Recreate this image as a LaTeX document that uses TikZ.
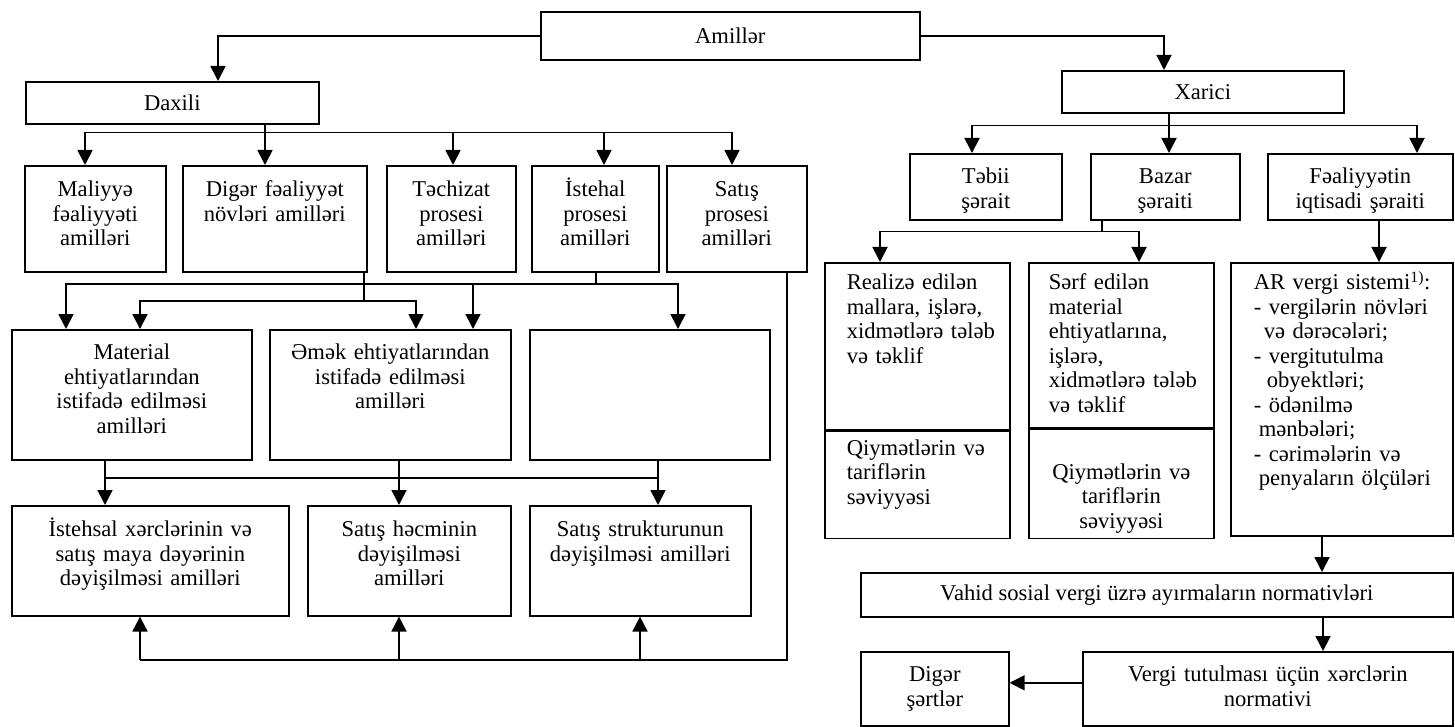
\documentclass[tikz,border=0pt]{standalone}
\usepackage{fontspec}
\setmainfont{Liberation Serif}
\usetikzlibrary{arrows.meta, positioning}

\begin{document}
\begin{tikzpicture}[
    x = 1pt, y = -1pt,
    font = \fontsize{22.6}{24.5}\selectfont,
    box/.style = {draw, rectangle, line width=1.6pt, inner xsep=4pt, inner ysep=0pt, align=center, anchor=north west},
    arr/.style = {-{Triangle[width=15pt,length=15pt]}, line width=1.8pt},
    ln/.style = {line width=1.8pt},
    row1/.style = {box, text height=31pt, text depth=75pt},
    row2/.style = {box, text height=30pt, text depth=36pt},
    row3/.style = {box, text height=30pt, text depth=100pt},
    row4/.style = {box, text height=31pt, text depth=79pt},
    leftbox/.style = {box, align=left, text height=27pt}
]
\useasboundingbox (0,0) rectangle (1455,727);

% --- TOP: Amillər, Daxili, Xarici ---
\node[box, minimum width=379pt, minimum height=48pt] (amil) at (540,11) {Amillər};
\node[box, minimum width=293pt, minimum height=42pt] (daxili) at (25,81) {Daxili};
\node[box, minimum width=282pt, minimum height=42pt] (xarici) at (1061,70) {Xarici};

\draw[arr] (amil.west) -| ([xshift=193pt]daxili.north west);
\draw[arr] (amil.east) -| ([xshift=103pt]xarici.north west);

% --- LEFT: process factors ---
\node[row1, text width=133pt] (maliyye) at (24,165) {Maliyyə\\ fəaliyyəti\\ amilləri};
\node[row1, text width=176pt] (diger) at (182,165) {Digər~fəaliyyət\\ növləri~amilləri};
\node[row1, text width=121pt] (techizat) at (386,165) {Təchizat\\ prosesi\\ amilləri};
\node[row1, text width=119pt] (istehal) at (531,165) {İstehal\\ prosesi\\ amilləri};
\node[row1, text width=132pt] (satis) at (666,165) {Satış\\ prosesi\\ amilləri};

\coordinate (dbus) at ([xshift=240pt, yshift=-8pt]daxili.south west);
\draw[ln] ([xshift=240pt]daxili.south west) -- (dbus);
\draw[arr] (dbus) -| ([xshift=61pt]maliyye.north west);
\draw[arr] (dbus) -- ([xshift=83pt]diger.north west);
\draw[arr] (dbus) -| ([xshift=67pt]techizat.north west);
\draw[arr] (dbus) -| ([xshift=73pt]istehal.north west);
\draw[arr] (dbus) -| ([xshift=66pt]satis.north west);

% resources
\node[row3, text width=232pt] (material) at (11,329) {Material\\ ehtiyatlarından\\ istifadə edilməsi\\ amilləri};
\node[row3, text width=233pt] (emek) at (269,329) {Əmək~ehtiyatlarından\\ istifadə edilməsi\\ amilləri};
\node[row3, text width=232pt] (bos) at (529,329) {};

\coordinate (dgbus) at ([xshift=182pt, yshift=-28pt]diger.south west);
\draw[ln] ([xshift=182pt]diger.south west) -- (dgbus);
\draw[arr] (dgbus) -| ([xshift=129pt]material.north west);
\draw[arr] (dgbus) -| ([xshift=147pt]emek.north west);

\coordinate (ibus) at ([xshift=65pt, yshift=-11pt]istehal.south west);
\draw[ln] ([xshift=65pt]istehal.south west) -- (ibus);
\draw[arr] (ibus) -| ([xshift=55pt]material.north west);
\draw[arr] (ibus) -| ([xshift=204pt]emek.north west);
\draw[arr] (ibus) -| ([xshift=149pt]bos.north west);

% results
\node[row4, text width=269pt] (xerc) at (11,505) {İstehsal xərclərinin və\\ satış maya dəyərinin\\ dəyişilməsi amilləri};
\node[row4, text width=195pt] (hecm) at (307,505) {Satış həcminin\\ dəyişilməsi\\ amilləri};
\node[row4, text width=213pt] (struktur) at (529,505) {Satış strukturunun\\ dəyişilməsi~amilləri};

\draw[arr] ([xshift=94pt]material.south west) -- ([xshift=94pt]xerc.north west);
\draw[arr] ([xshift=130pt]emek.south west) -- ([xshift=92pt]hecm.north west);
\draw[arr] ([xshift=129pt]bos.south west) -- ([xshift=129pt]struktur.north west);
\draw[ln] ([xshift=94pt, yshift=-17pt]material.south west) -- ([xshift=129pt, yshift=-17pt]bos.south west);

% feedback from Satış prosesi
\coordinate (fb) at ([xshift=129pt, yshift=-43pt]xerc.south west);
\draw[ln] ([xshift=121pt]satis.south west) |- (fb);
\draw[arr] (fb) -- ([xshift=129pt]xerc.south west);
\draw[arr] ([xshift=92pt, yshift=-43pt]hecm.south west) -- ([xshift=92pt]hecm.south west);
\draw[arr] ([xshift=111pt, yshift=-43pt]struktur.south west) -- ([xshift=111pt]struktur.south west);

% --- RIGHT: external conditions ---
\node[row2, text width=144pt] (tebii) at (909,153) {Təbii\\ şərait};
\node[row2, text width=141pt] (bazar) at (1090,153) {Bazar\\ şəraiti};
\node[row2, text width=177pt] (feal) at (1267,153) {Fəaliyyətin\\ iqtisadi~şəraiti};

\coordinate (xbus) at ([xshift=108pt, yshift=-12pt]xarici.south west);
\draw[ln] ([xshift=108pt]xarici.south west) -- (xbus);
\draw[arr] (xbus) -| ([xshift=63pt]tebii.north west);
\draw[arr] (xbus) -- ([xshift=79pt]bazar.north west);
\draw[arr] (xbus) -| ([xshift=150pt]feal.north west);

\node[leftbox, inner xsep=22pt, text width=141pt, text depth=140pt] (realize) at (824,262) {Realizə~edilən\\ mallara,~işlərə,\\ xidmətlərə~tələb\\ və~təklif};
\node[box, align=left, inner xsep=22pt, text width=141pt, text height=24pt, text depth=83pt, below=0pt of realize] (realize2) {Qiymətlərin~və\\ tariflərin\\ səviyyəsi};
\node[leftbox, inner xsep=20pt, text width=145pt, text depth=138pt] (serf) at (1028,262) {Sərf~edilən\\ material\\ ehtiyatlarına,\\ işlərə,\\ xidmətlərə~tələb\\ və~təklif};
\node[box, inner xsep=20pt, text width=145pt, text height=50pt, text depth=59pt, below=0pt of serf] (serf2) {Qiymətlərin~və\\ tariflərin\\ səviyyəsi};
\node[leftbox, inner xsep=23pt, text width=176pt, text depth=246pt] (ar) at (1230,262) {AR~vergi~sistemi\textsuperscript{1)}:\\ -~vergilərin~növləri\\ \hspace*{10pt}və~dərəcələri;\\ -~vergitutulma\\ \hspace*{13pt}obyektləri;\\ -~ödənilmə\\ \hspace*{5pt}mənbələri;\\ -~cərimələrin~və\\ \hspace*{5pt}penyaların~ölçüləri};

\coordinate (bbus) at ([xshift=12pt, yshift=-11pt]bazar.south west);
\draw[ln] ([xshift=12pt]bazar.south west) -- (bbus);
\draw[arr] (bbus) -| ([xshift=56pt]realize.north west);
\draw[arr] (bbus) -| ([xshift=111pt]serf.north west);
\draw[arr] ([xshift=112pt]feal.south west) -- ([xshift=149pt]ar.north west);

% tax normatives
\node[box, minimum width=592pt, minimum height=44pt] (vahid) at (860,572) {Vahid sosial vergi üzrə ayırmaların normativləri};
\node[box, text width=362pt, text height=30pt, text depth=44pt] (vergi) at (1082,651) {Vergi tutulması üçün xərclərin\\ normativi};
\node[box, text width=140pt, text height=30pt, text depth=44pt] (diger2) at (860,651) {Digər\\ şərtlər};

\draw[arr] ([xshift=92pt]ar.south west) -- ([xshift=462pt]vahid.north west);
\draw[arr] ([xshift=463pt]vahid.south west) -- ([xshift=241pt]vergi.north west);
\draw[arr] ([yshift=6pt]vergi.west) -- ([yshift=6pt]diger2.east);

\end{tikzpicture}
\end{document}
